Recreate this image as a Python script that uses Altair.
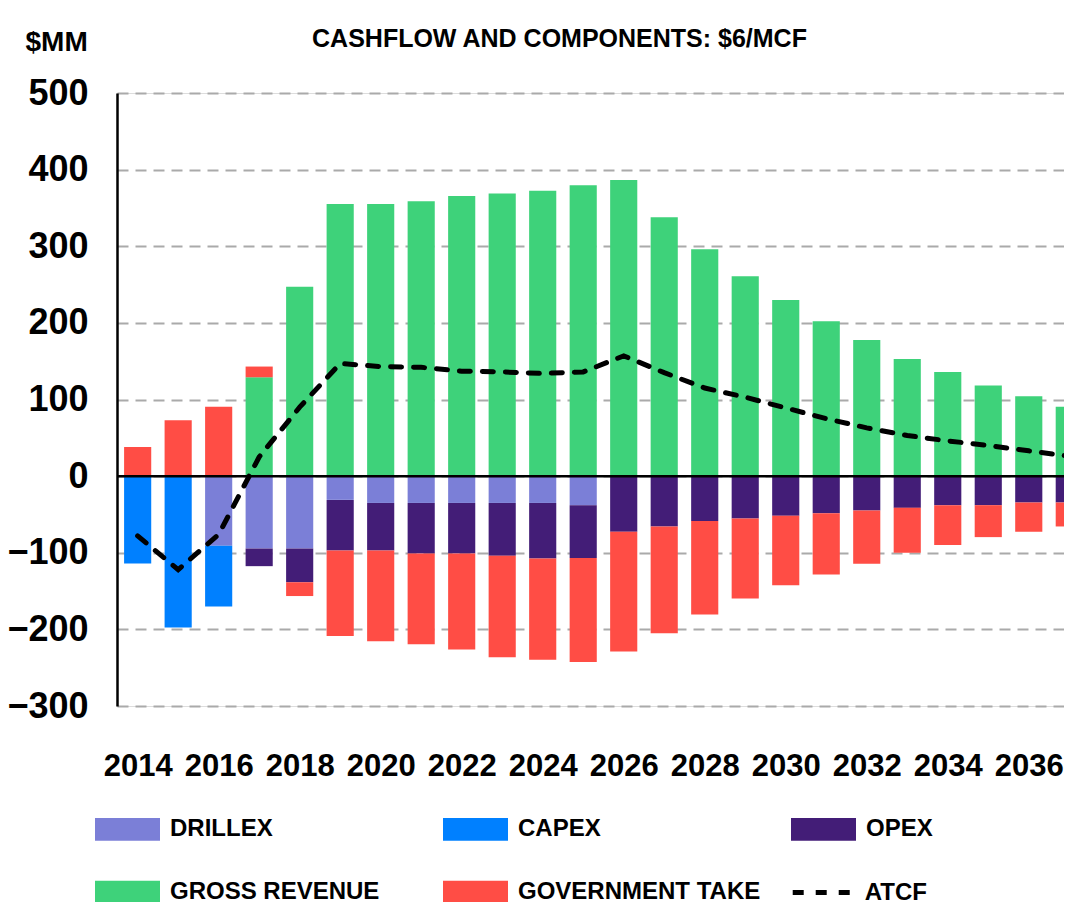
import altair as alt
import pandas as pd

years = list(range(2014, 2038))
drillex = [0, 0, -91, -94.5, -94.5, -31, -35, -35, -35, -35, -35, -38,
           0, 0, 0, 0, 0, 0, 0, 0, 0, 0, 0, 0]
capex = [-114, -197.5, -79, 0, 0, 0, 0, 0, 0, 0, 0, 0,
         0, 0, 0, 0, 0, 0, 0, 0, 0, 0, 0, 0]
opex = [0, 0, 0, -23, -44, -66, -62, -66, -66, -69, -72.5, -69,
        -72.7, -65.7, -58.7, -55.3, -51.8, -48.3, -44.8, -41.4, -37.9, -37.9, -34.4, -34.4]
gross_revenue = [0, 0, 0, 129, 247, 355, 355, 358.6, 365.5, 369, 372.5, 379.5,
                 386.4, 337.7, 296, 261, 229.8, 202, 177.5, 153, 135.8, 118.4, 104.4, 90.5]
government_take = [38, 73, 90.5, 14, -18, -111.5, -118.4, -118.4, -125.3, -132.3, -132.3, -135.7,
                   -156.3, -139.3, -121.9, -104.4, -90.5, -80.1, -69.7, -58.7, -52.1, -41.7, -38.3, -31.3]
atcf = [-78, -122, -76, 25, 90, 147, 143, 142, 137, 136, 134, 136,
        157, 135, 115, 103, 89, 75, 63, 53, 46, 40, 33, 26]

components = ["DRILLEX", "CAPEX", "OPEX", "GROSS REVENUE", "GOVERNMENT TAKE"]
colors = ["#7b7fd7", "#0080ff", "#431d77", "#3ed27a", "#ff4d45"]
series = [drillex, capex, opex, gross_revenue, government_take]

rows = []
for i, (name, vals) in enumerate(zip(components, series)):
    for yr, v in zip(years, vals):
        if v != 0:
            rows.append({"year": yr, "component": name, "value": v, "order": i})
bars_df = pd.DataFrame(rows)
line_df = pd.DataFrame({"year": years, "atcf": atcf, "series": ["ATCF"] * len(years)})
zero_df = pd.DataFrame({"z": [0]})

FONT = "Liberation Sans, Arial, Helvetica, sans-serif"

xscale = alt.Scale(domain=[2013.49, 2036.87], nice=False, zero=False)
yscale = alt.Scale(domain=[-300, 500], nice=False, zero=False)

xaxis = alt.Axis(values=list(range(2014, 2037, 2)), format="d", grid=False, domain=False,
                 ticks=False, labelFontSize=31, labelFont=FONT, labelFontWeight="bold",
                 labelColor="black", labelPadding=45, labelFlush=False, labelOverlap=False,
                 title=None)
yaxis = alt.Axis(values=list(range(-300, 501, 100)), grid=True, gridDash=[11, 7],
                 gridColor="#aaaaaa", gridWidth=2, domain=True, domainColor="black",
                 domainWidth=2.5, ticks=False, labelFontSize=36, labelFont=FONT,
                 labelFontWeight="bold", labelColor="black", labelPadding=29,
                 labelOverlap=False, title="$MM", titleAngle=0, titleX=-92, titleY=-51,
                 titleAlign="left", titleBaseline="middle", titleFontSize=28,
                 titleFont=FONT, titleFontWeight="bold", titleColor="black")

bars = alt.Chart(bars_df).transform_stack(
    stack="value", groupby=["year"], as_=["v0", "v1"],
    sort=[alt.SortField("order", order="ascending")]
).transform_calculate(
    xa="datum.year - 0.335", xb="datum.year + 0.335"
).mark_bar(clip=True).encode(
    x=alt.X("xa:Q", scale=xscale, axis=xaxis),
    x2="xb:Q",
    y=alt.Y("v0:Q", scale=yscale, axis=yaxis),
    y2="v1:Q",
    color=alt.Color("component:N", scale=alt.Scale(domain=components, range=colors),
                    legend=alt.Legend(orient="none", legendX=-22, legendY=703.5, columns=3,
                                      direction="horizontal",
                                      gridAlign="all", columnPadding=30, rowPadding=18,
                                      symbolType="M-1,-0.35L1,-0.35L1,0.35L-1,0.35Z",
                                      symbolSize=4225, symbolStrokeWidth=0, symbolOpacity=1,
                                      labelFont=FONT, labelFontSize=24, labelFontWeight="bold",
                                      labelColor="black", labelOffset=10, labelLimit=400,
                                      title=None, padding=0)),
)

zero = alt.Chart(zero_df).mark_rule(color="black", strokeWidth=2.5).encode(
    y=alt.Y("z:Q", scale=yscale, axis=yaxis)
)

line = alt.Chart(line_df).mark_line(clip=True, color="black", strokeWidth=5,
                                    strokeCap="round").encode(
    x=alt.X("year:Q", scale=xscale, axis=xaxis),
    y=alt.Y("atcf:Q", scale=yscale, axis=yaxis),
    strokeDash=alt.StrokeDash("series:N",
                              scale=alt.Scale(domain=["ATCF"], range=[[11, 12]]),
                              legend=alt.Legend(orient="none", legendX=694.7, legendY=786,
                                                symbolType="M-3,0L3,0", symbolSize=469,
                                                symbolStrokeWidth=5, symbolStrokeColor="black",
                                                labelFont=FONT, labelFontSize=24,
                                                labelFontWeight="bold", labelColor="black",
                                                labelOffset=26, title=None, padding=0)),
)

chart = alt.layer(bars, zero, line).properties(
    width=947, height=613,
    padding={"left": 109, "top": 85, "right": 0, "bottom": 196},
    autosize=alt.AutoSizeParams(type="none"),
    title=alt.TitleParams("CASHFLOW AND COMPONENTS: $6/MCF", font=FONT, fontSize=25,
                          fontWeight="bold", color="black", anchor="middle", dx=-31,
                          offset=0, dy=24),
).configure_view(stroke=None).configure(background="white")

chart.save("out.html", embed_options={"renderer": "svg", "actions": False})
